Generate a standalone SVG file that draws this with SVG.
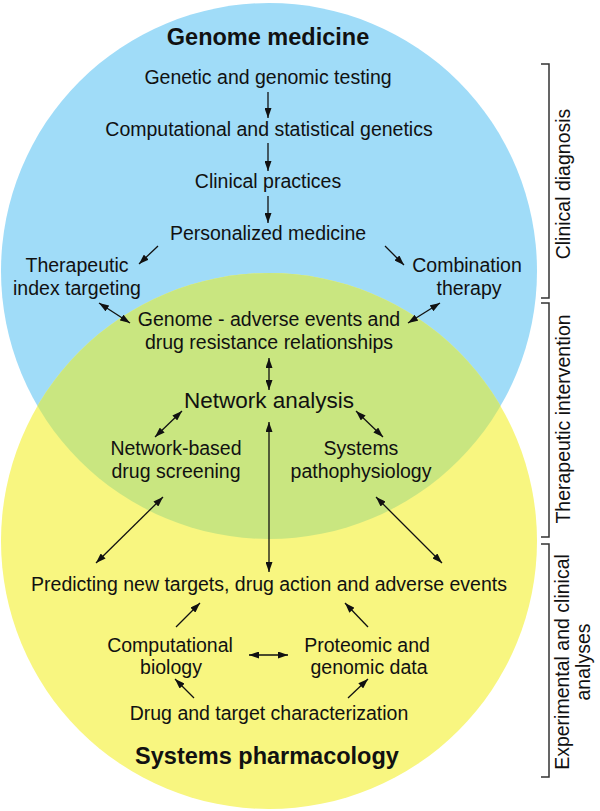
<svg xmlns="http://www.w3.org/2000/svg" width="600" height="811" viewBox="0 0 600 811">
<style>
text{font-family:"Liberation Sans",Arial,Helvetica,sans-serif;font-size:19.5px;fill:#111;text-anchor:middle}
.title{font-weight:bold;font-size:23.5px}
.big{font-size:22.5px}
.ln{stroke:#111;stroke-width:1.3;fill:none}
.br{stroke:#333;stroke-width:1.5;fill:none}
</style>
<defs>
<marker id="ah" viewBox="0 0 10 7" refX="10" refY="3.5" markerWidth="10" markerHeight="7" markerUnits="userSpaceOnUse" orient="auto-start-reverse">
<path d="M0,0 L10,3.5 L0,7 Z" fill="#111"/>
</marker>
<clipPath id="blueClip"><circle cx="269" cy="271" r="268"/></clipPath>
</defs>
<g id="circles">
<circle cx="269" cy="271" r="268" fill="#a0dcf8"/>
<circle cx="269" cy="541" r="268" fill="#f8f680"/>
<circle cx="269" cy="541" r="268" fill="#c9e680" clip-path="url(#blueClip)"/>
</g>
<g id="brackets">
<path class="br" d="M541,64 H549 V298 H541"/>
<path class="br" d="M541,303 H549 V537 H541"/>
<path class="br" d="M541,544 H549 V777 H541"/>
</g>
<g id="side-labels">
<text transform="translate(570,184) rotate(-90)">Clinical diagnosis</text>
<text transform="translate(570,419) rotate(-90)">Therapeutic intervention</text>
<text transform="translate(569,662) rotate(-90)">Experimental and clinical</text>
<text transform="translate(590,662) rotate(-90)">analyses</text>
</g>
<g id="connectors">
<line class="ln" x1="268" y1="92" x2="268" y2="118" marker-end="url(#ah)"/>
<line class="ln" x1="268" y1="143" x2="268" y2="171" marker-end="url(#ah)"/>
<line class="ln" x1="268" y1="196" x2="268" y2="223" marker-end="url(#ah)"/>
<line class="ln" x1="158" y1="246" x2="139" y2="264" marker-end="url(#ah)"/>
<line class="ln" x1="385" y1="246" x2="404" y2="265" marker-end="url(#ah)"/>
<line class="ln" x1="99" y1="303" x2="130" y2="323" marker-start="url(#ah)" marker-end="url(#ah)"/>
<line class="ln" x1="440" y1="303" x2="408" y2="323" marker-start="url(#ah)" marker-end="url(#ah)"/>
<line class="ln" x1="269" y1="358" x2="269" y2="390" marker-start="url(#ah)" marker-end="url(#ah)"/>
<line class="ln" x1="182" y1="411" x2="155" y2="437" marker-start="url(#ah)" marker-end="url(#ah)"/>
<line class="ln" x1="356" y1="411" x2="383" y2="437" marker-start="url(#ah)" marker-end="url(#ah)"/>
<line class="ln" x1="269" y1="422" x2="269" y2="572" marker-start="url(#ah)" marker-end="url(#ah)"/>
<line class="ln" x1="163" y1="497" x2="96" y2="563" marker-start="url(#ah)" marker-end="url(#ah)"/>
<line class="ln" x1="376" y1="497" x2="442" y2="563" marker-start="url(#ah)" marker-end="url(#ah)"/>
<line class="ln" x1="176" y1="627" x2="200" y2="603" marker-end="url(#ah)"/>
<line class="ln" x1="368" y1="627" x2="345" y2="603" marker-end="url(#ah)"/>
<line class="ln" x1="249" y1="655" x2="288" y2="655" marker-start="url(#ah)" marker-end="url(#ah)"/>
<line class="ln" x1="194" y1="698" x2="175" y2="679" marker-end="url(#ah)"/>
<line class="ln" x1="348" y1="698" x2="368" y2="679" marker-end="url(#ah)"/>
</g>
<g id="genome-medicine"><text class="title" x="268" y="45">Genome medicine</text></g>
<g id="genetic-testing"><text x="268" y="84">Genetic and genomic testing</text></g>
<g id="computational-genetics"><text x="269" y="136">Computational and statistical genetics</text></g>
<g id="clinical-practices"><text x="268" y="188">Clinical practices</text></g>
<g id="personalized-medicine"><text x="268" y="240">Personalized medicine</text></g>
<g id="therapeutic-index"><text x="77" y="272">Therapeutic</text><text x="77" y="295">index targeting</text></g>
<g id="combination-therapy"><text x="467" y="272">Combination</text><text x="469" y="295">therapy</text></g>
<g id="genome-adverse"><text x="269" y="326">Genome - adverse events and</text><text x="269" y="349">drug resistance relationships</text></g>
<g id="network-analysis"><text class="big" x="269" y="408">Network analysis</text></g>
<g id="network-screening"><text x="176" y="455">Network-based</text><text x="176" y="478">drug screening</text></g>
<g id="systems-pathophysiology"><text x="361" y="455">Systems</text><text x="361" y="478">pathophysiology</text></g>
<g id="predicting"><text x="269" y="591">Predicting new targets, drug action and adverse events</text></g>
<g id="computational-biology"><text x="170" y="652">Computational</text><text x="171" y="674">biology</text></g>
<g id="proteomic-data"><text x="367" y="652">Proteomic and</text><text x="369" y="674">genomic data</text></g>
<g id="drug-target"><text x="269" y="720">Drug and target characterization</text></g>
<g id="systems-pharmacology"><text class="title" x="267" y="764">Systems pharmacology</text></g>
</svg>
